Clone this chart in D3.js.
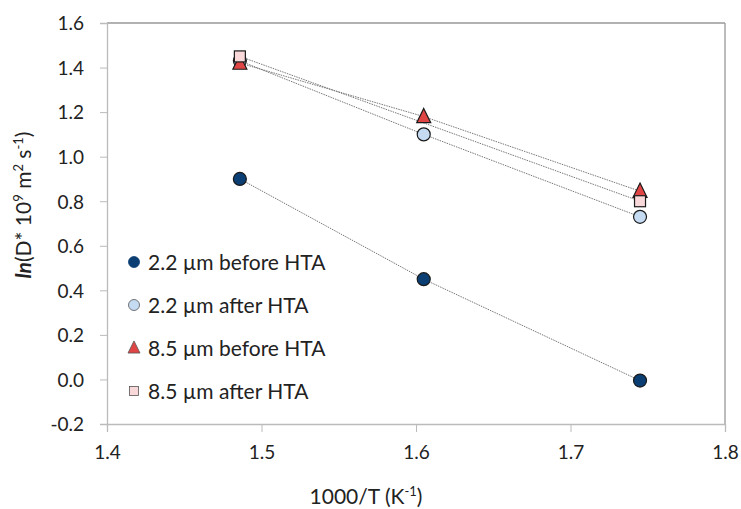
<!DOCTYPE html>
<html>
<head>
<meta charset="utf-8">
<script src="https://cdn.jsdelivr.net/npm/d3@7"></script>
<style>
  body { margin: 0; background: #fff; }
  text { font-family: Lato, "Open Sans", sans-serif; fill: #222; }
</style>
</head>
<body>
<svg id="chart" width="741" height="509"></svg>
<script>
// data (null = no marker visible)
var xVals = [1.486, 1.605, 1.745];
var before22 = [0.90, 0.45, -0.005];
var after22 = [1.43, 1.10, 0.73];
var before85 = [1.42, 1.18, 0.845];
var after85 = [1.45, null, 0.80];
var seriesNames = ["2.2 \u00b5m before HTA", "2.2 \u00b5m after HTA", "8.5 \u00b5m before HTA", "8.5 \u00b5m after HTA"];
var xTicks = [1.4, 1.5, 1.6, 1.7, 1.8];
var yTicks = [-0.2, 0, 0.2, 0.4, 0.6, 0.8, 1.0, 1.2, 1.4, 1.6];

var series = [
    {name: seriesNames[0], values: before22, shape: "circle", fill: "#0b3e73"},
    {name: seriesNames[1], values: after22, shape: "circle", fill: "#c5dbf2"},
    {name: seriesNames[2], values: before85, shape: "triangle", fill: "#e04545"},
    {name: seriesNames[3], values: after85, shape: "square", fill: "#f8d8d8"}
];

var plotLeft = 107, plotRight = 725, plotTop = 23, plotBottom = 424;
var svg = d3.select("#chart");

var x = d3.scaleLinear().domain([1.4, 1.8]).range([plotLeft, plotRight]);
var y = d3.scaleLinear().domain([-0.2, 1.6]).range([plotBottom, plotTop]);
var fmt = function (d) { return d3.format(".1f")(d).replace("\u2212", "-"); };

// frame
svg.append("line").attr("x1", plotLeft).attr("x2", plotRight).attr("y1", plotTop).attr("y2", plotTop)
    .style("stroke", "#999").style("stroke-width", 1.3);
svg.append("line").attr("x1", plotRight).attr("x2", plotRight).attr("y1", plotTop).attr("y2", plotBottom)
    .style("stroke", "#999").style("stroke-width", 1.3);

var xAxis = svg.append("g").attr("transform", "translate(0," + plotBottom + ")")
    .call(d3.axisBottom(x).tickValues(xTicks).tickFormat(fmt).tickSize(8).tickPadding(14));
var yAxis = svg.append("g").attr("transform", "translate(" + plotLeft + ",0)")
    .call(d3.axisLeft(y).tickValues(yTicks).tickFormat(fmt).tickSize(7).tickPadding(16));

[xAxis, yAxis].forEach(function (g) {
    g.select(".domain").style("stroke", "#bbb").style("stroke-width", 1.3);
    g.selectAll(".tick line").style("stroke", "#bbb");
    g.selectAll(".tick text").style("font-size", "19px").style("fill", "#222")
        .style("font-family", "Lato, 'Open Sans', sans-serif");
});
yAxis.selectAll(".tick text").attr("dy", "0.36em");

// dotted lines
var line = d3.line().x(function (d) { return x(d[0]); }).y(function (d) { return y(d[1]); });
series.forEach(function (s) {
    var pts = xVals.map(function (v, i) { return [v, s.values[i]]; })
        .filter(function (d) { return d[1] != null; });
    svg.append("path").datum(pts).attr("d", line)
        .style("fill", "none").style("stroke", "#777").style("stroke-width", 1)
        .style("stroke-dasharray", "1.5,1");
});

function marker(g, shape, size) {
    if (shape == "circle") return g.append("circle").attr("r", size);
    if (shape == "square") return g.append("rect").attr("x", -size).attr("y", -size)
        .attr("width", size * 2).attr("height", size * 2);
    var h = size * 1.1;
    return g.append("path").attr("d", "M0," + (-h - 1) + "L" + (size + 0.5) + "," + (h - 1) + "L" + (-size - 0.5) + "," + (h - 1) + "Z");
}

// points
series.forEach(function (s) {
    xVals.forEach(function (v, i) {
        if (s.values[i] == null) return;
        var g = svg.append("g").attr("transform", "translate(" + x(v) + "," + y(s.values[i]) + ")");
        marker(g, s.shape, s.shape == "square" ? 5.5 : 6.5)
            .style("fill", s.fill).style("stroke", "#1a1a1a").style("stroke-width", 1.2);
    });
});

// legend
var legend = svg.append("g");
series.forEach(function (s, i) {
    var ly = 262 + i * 43;
    var g = legend.append("g").attr("transform", "translate(134," + ly + ")");
    marker(g, s.shape, s.shape == "square" ? 4.5 : 5.5)
        .style("fill", s.fill).style("stroke", i == 0 ? "#0b3e73" : "#555").style("stroke-width", 0.8);
    legend.append("text").attr("x", 148).attr("y", ly).attr("dy", "0.36em")
        .style("font-size", "21px").text(s.name);
});

// axis titles
svg.append("text").attr("x", 366).attr("y", 504).attr("text-anchor", "middle")
    .style("font-size", "21px")
    .html('1000/T (K<tspan dy="-8" font-size="13px">-1</tspan><tspan dy="8">)</tspan>');

svg.append("text").attr("transform", "translate(31,205) rotate(-90)").attr("text-anchor", "middle")
    .style("font-size", "21px")
    .html('<tspan font-weight="bold" font-style="italic">ln</tspan>(D* 10<tspan dy="-8" font-size="13px">9</tspan><tspan dy="8"> m</tspan><tspan dy="-8" font-size="13px">2</tspan><tspan dy="8"> s</tspan><tspan dy="-8" font-size="13px">-1</tspan><tspan dy="8">)</tspan>');
</script>
</body>
</html>
